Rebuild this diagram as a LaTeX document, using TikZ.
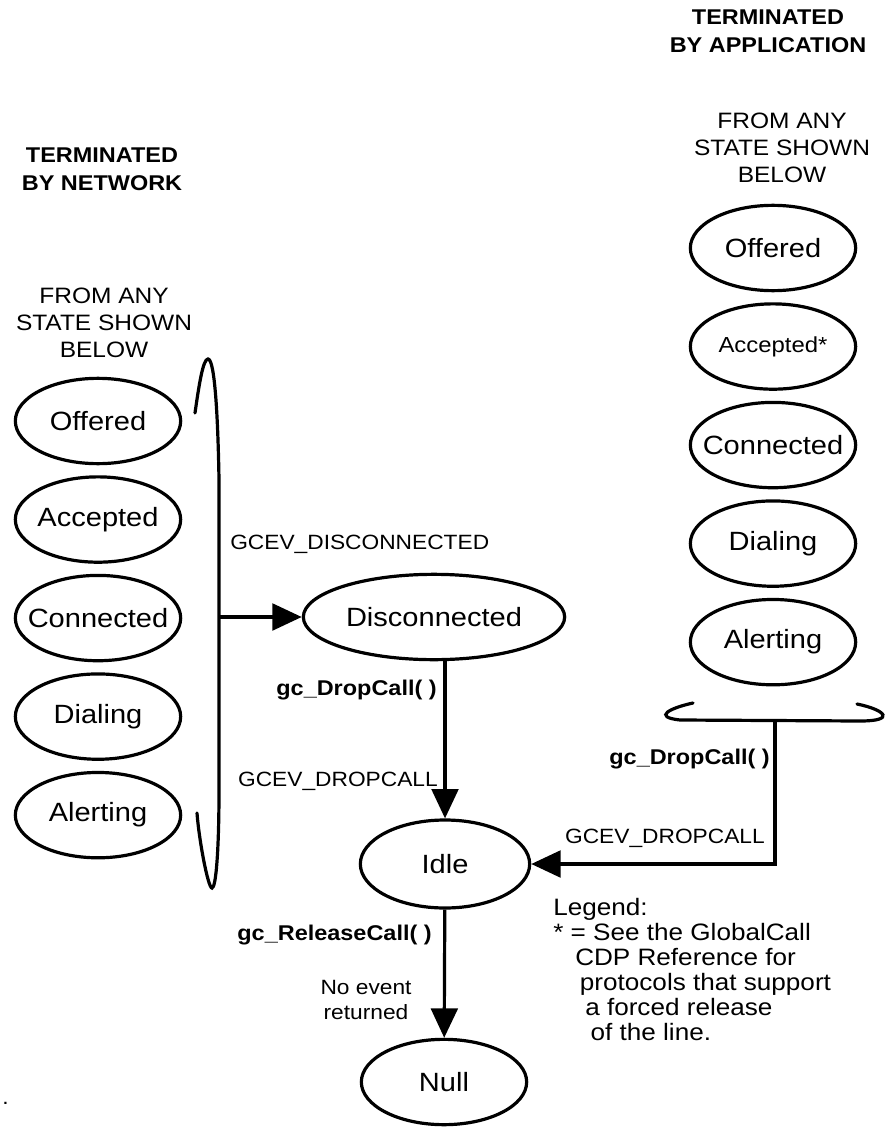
\documentclass[tikz,border=0pt]{standalone}
\usepackage{fontspec}
\setmainfont[FakeStretch=1.1]{Liberation Sans}
\usetikzlibrary{positioning,arrows.meta,shapes.geometric}

\newcommand{\stname}[1]{\makebox[0pt]{#1}}

\begin{document}
\begin{tikzpicture}[
    x=0.75pt, y=-0.75pt,
    node distance=7.5pt,
    state node/.style={ellipse, draw, line width=2.4pt, minimum width=124pt, minimum height=64pt, inner sep=0pt, font=\fontsize{19.8}{22}\selectfont},
    ev label/.style={font=\fontsize{15.5}{19}\selectfont, inner sep=0pt},
    fn label/.style={font=\fontsize{16}{19}\selectfont\bfseries, inner sep=0pt},
    head text/.style={font=\fontsize{16}{21}\selectfont\bfseries, align=center, inner sep=0pt},
    from text/.style={font=\fontsize{16.7}{20.2}\selectfont, align=center, inner sep=0pt},
    legend text/.style={font=\fontsize{17.8}{18.75}\selectfont, align=left, inner sep=0pt},
    bar line/.style={line width=2.4pt, line cap=round},
    flow/.style={line width=2.4pt, -{Triangle[length=22pt, width=20pt]}}
]
  \useasboundingbox (0,0) rectangle (894,1130);

  % headings
  \node[head text, anchor=north] (tApp) at (768,10) {TERMINATED\\BY APPLICATION};
  \node[head text, anchor=north] (tNet) at (102,148) {TERMINATED\\BY NETWORK};
  \node[from text, anchor=north] (fApp) at (782,113) {FROM ANY\\STATE SHOWN\\BELOW};
  \node[from text, anchor=north] (fNet) at (104,288) {FROM ANY\\STATE SHOWN\\BELOW};

  % states terminated by network
  \node[state node] (nOffered) at (98,421) {\stname{Offered}};
  \node[state node, below=of nOffered] (nAccepted) {\stname{Accepted}};
  \node[state node, below=of nAccepted] (nConnected) {\stname{Connected}};
  \node[state node, below=of nConnected] (nDialing) {\stname{Dialing}};
  \node[state node, below=of nDialing] (nAlerting) {\stname{Alerting}};

  % states terminated by application
  \node[state node] (aOffered) at (773,248) {\stname{Offered}};
  \node[state node, below=of aOffered] (aAccepted) {\stname{\fontsize{16.3}{19}\selectfont Accepted*}};
  \node[state node, below=of aAccepted] (aConnected) {\stname{Connected}};
  \node[state node, below=of aConnected] (aDialing) {\stname{Dialing}};
  \node[state node, below=of aDialing] (aAlerting) {\stname{Alerting}};

  % main states
  \node[state node, minimum width=196pt] (nDisc) at (434,617) {\stname{Disconnected}};
  \node[state node, minimum width=127pt, minimum height=66pt] (nIdle) at (445,864) {\stname{Idle}};
  \node[state node] (nNull) at (444,1082) {\stname{Null}};

  % brackets round the groups
  \draw[bar line] (195,413) .. controls (199,385) and (203,359) .. (208,359)
      .. controls (215,359) and (218,420) .. (219,480) -- (219,790)
      .. controls (219,850) and (216,888) .. (212,888)
      .. controls (208,888) and (199,840) .. (197,813);
  \draw[bar line] (693,703) .. controls (670,708) and (652,717) .. (680,720)
      -- (860,721) .. controls (896,721) and (886,710) .. (857,704);
  \coordinate (netBar) at (219,617);
  \coordinate (appBar) at (775,721);

  % transitions
  \draw[flow] (netBar) -- (nDisc);
  \draw[flow] (nDisc.south -| nIdle.north) -- (nIdle);
  \draw[flow] (appBar) |- (nIdle);
  \draw[flow] (nIdle) -- (nNull);

  % labels
  \node[ev label, anchor=base west] (lblDisc) at (230,549) {GCEV\_DISCONNECTED};
  \node[fn label, anchor=base east] (lblDrop) at (437,695) {gc\_DropCall( )};
  \node[ev label, anchor=base east] (lblDropEv) at (438,786) {GCEV\_DROPCALL};
  \node[fn label, anchor=base east] (lblRel) at (432,940) {gc\_ReleaseCall( )};
  \node[ev label, align=center, anchor=north] (lblNoEv) at (366,980) {No event\\returned};
  \node[fn label, anchor=base east] (lblAppDrop) at (770,764) {gc\_DropCall( )};
  \node[ev label, anchor=base east] (lblAppEv) at (765,843) {GCEV\_DROPCALL};

  % legend
  \node[legend text, anchor=north west] (legend) at (553,898) {Legend:\\{}* = See the GlobalCall\\
      \hspace*{16.5pt}CDP Reference for\\ \hspace*{20pt}protocols that support\\
      \hspace*{24pt}a forced release\\ \hspace*{28pt}of the line.};
  \node[ev label, anchor=base west] (dot) at (2,1104) {.};
\end{tikzpicture}
\end{document}
